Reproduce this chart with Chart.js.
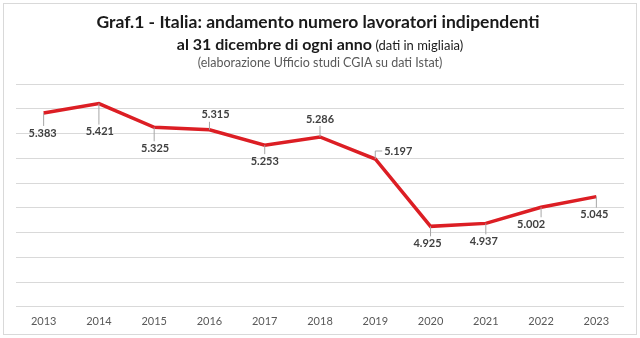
<!DOCTYPE html>
<html>
<head>
  <script src="https://cdn.jsdelivr.net/npm/chart.js"></script>
  <style>
    html, body { margin: 0; padding: 0; background: #fff; }
    #wrap { width: 640px; height: 338px; }
  </style>
</head>
<body>
<div id="wrap"><canvas id="lavChart"></canvas></div>
<script>
// lavoratori indipendenti al 31/12, in migliaia
const anni = ['2013', '2014', '2015', '2016', '2017', '2018', '2019', '2020', '2021', '2022', '2023'];
const lavoratori = [5383, 5421, 5325, 5315, 5253, 5286, 5197, 4925, 4937, 5002, 5045];

// spostamento etichette rispetto al punto (px)
const labelOffsets = [[-1, 20], [1, 28], [1, 21], [6, -15], [0, 16], [0, -18], [23, -8], [-3, 17], [-2, 18], [-10, 17], [-2, 18]];

const FONT = 'Lato, "Open Sans", sans-serif';

function fmt(v) {
  return String(v).replace(/\B(?=(\d{3})+(?!\d))/g, '.');
}

// cornice e titolo su tre righe
const headerPlugin = {
  id: 'header',
  beforeDraw(chart) {
    const ctx = chart.ctx;
    const cx = chart.width / 2;
    ctx.save();
    ctx.fillStyle = '#fff';
    ctx.fillRect(0, 0, chart.width, chart.height);
    ctx.strokeStyle = '#d9d9d9';
    ctx.lineWidth = 1;
    ctx.strokeRect(3.5, 3.5, chart.width - 7, chart.height - 7);

    ctx.textBaseline = 'alphabetic';
    ctx.fillStyle = '#1a1a1a';
    ctx.textAlign = 'center';
    ctx.font = 'bold 17.5px ' + FONT;
    ctx.fillText('Graf.1 - Italia: andamento numero lavoratori indipendenti', cx - 2, 28);

    const a = 'al 31 dicembre di ogni anno';
    const b = ' (dati in migliaia)';
    ctx.font = 'bold 16px ' + FONT;
    const wa = ctx.measureText(a).width;
    ctx.font = '13px ' + FONT;
    const wb = ctx.measureText(b).width;
    let x = cx - (wa + wb) / 2;
    ctx.textAlign = 'left';
    ctx.font = 'bold 16px ' + FONT;
    ctx.fillText(a, x, 50);
    ctx.font = '13px ' + FONT;
    ctx.fillText(b, x + wa, 50);

    ctx.textAlign = 'center';
    ctx.fillStyle = '#595959';
    ctx.font = '12.5px ' + FONT;
    ctx.fillText('(elaborazione Ufficio studi CGIA su dati Istat)', cx, 67);
    ctx.restore();
  }
};

// etichette dei valori con linee di richiamo
const valueLabels = {
  id: 'valueLabels',
  afterDatasetsDraw(chart) {
    const ctx = chart.ctx;
    const meta = chart.getDatasetMeta(0);
    const vals = chart.data.datasets[0].data;
    ctx.save();
    ctx.font = 'bold 11px ' + FONT;
    ctx.textAlign = 'center';
    ctx.textBaseline = 'middle';
    meta.data.forEach((pt, i) => {
      const [dx, dy] = labelOffsets[i];
      const txt = fmt(vals[i]);
      const w = ctx.measureText(txt).width;
      const lx = pt.x + dx, ly = pt.y + dy;
      const left = lx - w / 2 - 2, right = lx + w / 2 + 2;
      const top = ly - 7, bottom = ly + 7;
      ctx.strokeStyle = '#a6a6a6';
      ctx.lineWidth = 1;
      ctx.beginPath();
      if (Math.abs(dx) > w / 2) {
        // etichetta a lato: linea a gomito
        const ex = dx > 0 ? left : right;
        ctx.moveTo(pt.x, pt.y);
        ctx.lineTo(pt.x, ly);
        ctx.lineTo(ex, ly);
      } else {
        const nx = Math.min(Math.max(pt.x, left), right);
        const ny = Math.min(Math.max(pt.y, top), bottom);
        if (Math.hypot(nx - pt.x, ny - pt.y) > 3) {
          ctx.moveTo(pt.x, pt.y);
          ctx.lineTo(nx, ny);
        }
      }
      ctx.stroke();
      ctx.fillStyle = '#404040';
      ctx.fillText(txt, lx, ly);
    });
    ctx.restore();
  }
};

new Chart(document.getElementById('lavChart'), {
  type: 'line',
  data: {
    labels: anni,
    datasets: [{
      data: lavoratori,
      borderColor: '#dc1e24',
      borderWidth: 3.5,
      pointRadius: 0,
      tension: 0,
      fill: false
    }]
  },
  options: {
    responsive: true,
    maintainAspectRatio: false,
    animation: false,
    layout: { padding: { top: 84, bottom: 2, left: 16, right: 16 } },
    plugins: {
      legend: { display: false },
      tooltip: { enabled: false }
    },
    scales: {
      x: {
        offset: true,
        grid: { display: false, drawTicks: false },
        border: { display: false },
        ticks: { color: '#595959', padding: 8, font: { family: FONT, size: 11 } }
      },
      y: {
        min: 4600,
        max: 5500,
        ticks: { display: false, stepSize: 100 },
        grid: { color: '#d9d9d9', drawTicks: false },
        border: { display: false }
      }
    }
  },
  plugins: [headerPlugin, valueLabels]
});
</script>
</body>
</html>
